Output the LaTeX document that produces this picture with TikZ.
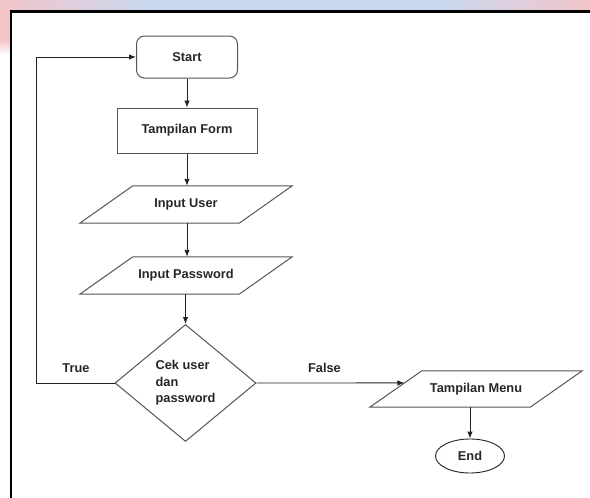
\documentclass[tikz,border=0pt]{standalone}
\usepackage{fontspec}
\setmainfont{Liberation Sans}
\usetikzlibrary{arrows.meta,shapes.geometric,calc}
\definecolor{edge}{HTML}{555555}
\definecolor{wire}{HTML}{222222}
\definecolor{wmpink}{HTML}{F3C5C9}
\definecolor{wmblue}{HTML}{C9D8F0}
\tikzset{
  lbl/.style={font=\fontsize{12.8}{16.5}\selectfont\bfseries, text=black!85},
  startbox/.style={lbl, draw=edge, line width=1pt, rounded corners=8pt,
    minimum width=101pt, minimum height=42pt, inner sep=0pt},
  procbox/.style={lbl, draw=edge, line width=1pt,
    minimum width=140pt, minimum height=45pt, inner sep=0pt},
  iobox/.style={lbl, minimum width=159pt, minimum height=37pt, inner sep=0pt},
  decision/.style={lbl, diamond, draw=edge, line width=1pt, align=left,
    minimum width=141pt, minimum height=117pt, inner sep=0pt, aspect=1.2},
  terminal/.style={lbl, ellipse, draw=wire, line width=0.9pt,
    minimum width=69pt, minimum height=34pt, inner sep=0pt},
  flow/.style={draw=wire, line width=0.9pt, -{Latex[length=7pt,width=5.5pt]}},
  ioline/.style={draw=edge, line width=1pt, line join=miter},
}
\begin{document}
\begin{tikzpicture}[x=1pt,y=-1pt]
\useasboundingbox (0,0) rectangle (590,498);
% faint background print showing around the frame
\shade[left color=wmpink, right color=wmblue] (0,0) rectangle (150,11);
\fill[wmblue] (150,0) rectangle (440,11);
\shade[left color=wmblue, right color=wmpink] (440,0) rectangle (590,11);
\fill[wmpink] (0,11) rectangle (10,40);
\shade[top color=wmpink, bottom color=white] (0,40) rectangle (10,55);
% frame
\draw[black, line width=2.4pt] (11,500) -- (11,11.5) -- (592,11.5);

% nodes
\node[startbox] (start) at (187,57) {Start};
\node[procbox] (form) at (187,130.5) {Tampilan Form};
\node[iobox] (user) at (186,204.5) {Input User};
\node[iobox] (pass) at (186,275.5) {Input Password};
\node[decision] (cek) at (185.5,383) {Cek user\\dan\\password};
\node[iobox, minimum width=160pt, minimum height=36pt] (menu) at (476,389) {Tampilan Menu};
\node[terminal] (end) at (470,456) {End};

% parallelogram outlines
\foreach \n/\s in {user/26.5, pass/26.5, menu/26} {
  \draw[ioline] ($(\n.south west)+(-\s,0)$) -- ($(\n.south east)+(-\s,0)$)
    -- ($(\n.north east)+(\s,0)$) -- ($(\n.north west)+(\s,0)$) -- cycle;
}
\path ($(menu.south west)+(-26,0)$) -- ($(menu.north west)+(26,0)$)
  coordinate[pos=0.667] (menuin);

% connectors
\draw[flow] (start) -- (form);
\draw[flow] (form.south) -- (form.south |- user.north);
\draw[flow] (user.south -| form.south) -- (form.south |- pass.north);
\draw[flow] (pass.south -| cek.north) -- (cek.north);
\draw[flow] (cek.east) -- (menuin);
\draw[flow] (menu.south -| end.north) -- (end.north);
\coordinate (loopdown) at (36,383);
\coordinate (loopup) at (36,57);
\draw[flow] (cek.west) -- (loopdown) -- (loopup) -- (start.west);

% branch labels
\node[lbl] (ltrue) at (76,368) {True};
\node[lbl] (lfalse) at (324.5,368) {False};
\end{tikzpicture}
\end{document}
